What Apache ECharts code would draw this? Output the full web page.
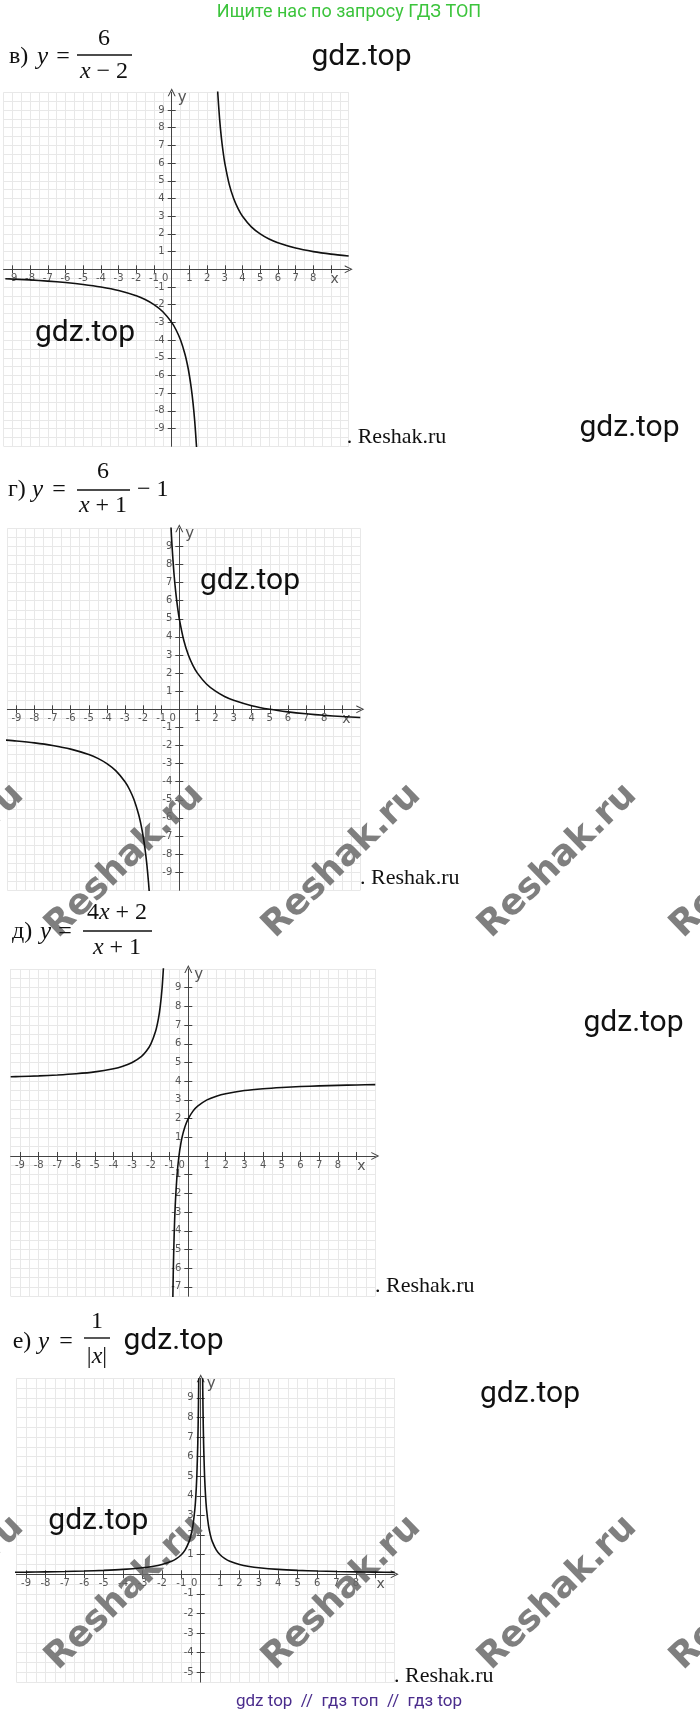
<!DOCTYPE html>
<html>
<head>
<meta charset="utf-8">
<script src="https://cdn.jsdelivr.net/npm/echarts/dist/echarts.min.js"></script>
<style>html,body{margin:0;padding:0;background:#fff}#c{width:700px;height:1716px}</style>
</head>
<body>
<div id="c"></div>
<script>
// ---------- data ----------
// в) y = 6/(x-2)
const v_left  = [[-9.4,-0.53],[-8,-0.6],[-7,-0.667],[-6,-0.75],[-5,-0.857],[-4,-1],[-3,-1.2],[-2,-1.5],[-1.5,-1.71],[-1,-2],[-0.5,-2.4],[0,-3],[0.25,-3.43],[0.5,-4],[0.75,-4.8],[0.9,-5.45],[1,-6],[1.1,-6.67],[1.2,-7.5],[1.3,-8.57],[1.4,-10],[1.45,-10.9]];
const v_right = [[2.55,10.9],[2.6,10],[2.7,8.57],[2.8,7.5],[2.9,6.67],[3,6],[3.25,4.8],[3.5,4],[3.75,3.43],[4,3],[4.5,2.4],[5,2],[5.5,1.71],[6,1.5],[7,1.2],[8,1],[9,0.857],[10,0.75]];
// г) y = 6/(x+1) - 1
const g_left  = [[-9.6,-1.7],[-9,-1.75],[-8,-1.857],[-7,-2],[-6,-2.2],[-5,-2.5],[-4.5,-2.71],[-4,-3],[-3.5,-3.4],[-3,-4],[-2.75,-4.43],[-2.5,-5],[-2.25,-5.8],[-2.1,-6.45],[-2,-7],[-1.9,-7.67],[-1.8,-8.5],[-1.7,-9.57],[-1.65,-10.23]];
const g_right = [[-0.46,10.1],[-0.4,9],[-0.3,7.57],[-0.2,6.5],[-0.1,5.67],[0,5],[0.25,3.8],[0.5,3],[0.75,2.43],[1,2],[1.5,1.4],[2,1],[2.5,0.71],[3,0.5],[4,0.2],[5,0],[6,-0.143],[7,-0.25],[8,-0.333],[9,-0.4],[10,-0.455]];
// д) y = (4x+2)/(x+1)
const d_left  = [[-9.5,4.235],[-9,4.25],[-8,4.286],[-7,4.333],[-6,4.4],[-5,4.5],[-4,4.667],[-3.5,4.8],[-3,5],[-2.5,5.333],[-2.25,5.6],[-2,6],[-1.75,6.667],[-1.6,7.333],[-1.5,8],[-1.4,9],[-1.33,10.06],[-1.3,10.67]];
const d_right = [[-0.84,-8.5],[-0.8,-6],[-0.75,-4],[-0.7,-2.667],[-0.6,-1],[-0.5,0],[-0.4,0.667],[-0.3,1.143],[-0.2,1.5],[-0.1,1.778],[0,2],[0.25,2.4],[0.5,2.667],[1,3],[1.5,3.2],[2,3.333],[3,3.5],[4,3.6],[5,3.667],[6,3.714],[7,3.75],[8,3.778],[9,3.8],[10,3.818]];
// е) y = 1/|x|
const e_left  = [[-9.6,0.104],[-9,0.111],[-8,0.125],[-7,0.143],[-6,0.167],[-5,0.2],[-4,0.25],[-3,0.333],[-2.5,0.4],[-2,0.5],[-1.5,0.667],[-1.25,0.8],[-1,1],[-0.8,1.25],[-0.6,1.667],[-0.5,2],[-0.4,2.5],[-0.3,3.333],[-0.25,4],[-0.2,5],[-0.15,6.667],[-0.12,8.333],[-0.1,10]];
const e_right = [[0.1,10],[0.12,8.333],[0.15,6.667],[0.2,5],[0.25,4],[0.3,3.333],[0.4,2.5],[0.5,2],[0.6,1.667],[0.8,1.25],[1,1],[1.25,0.8],[1.5,0.667],[2,0.5],[2.5,0.4],[3,0.333],[4,0.25],[5,0.2],[6,0.167],[7,0.143],[8,0.125],[9,0.111],[10,0.1]];

// tick values and tick labels
const xTicks      = [-9,-8,-7,-6,-5,-4,-3,-2,-1,0,1,2,3,4,5,6,7,8,9];
const xTickLabels = [-9,-8,-7,-6,-5,-4,-3,-2,-1,0,1,2,3,4,5,6,7,8];
const yTicks9     = [-9,-8,-7,-6,-5,-4,-3,-2,-1,0,1,2,3,4,5,6,7,8,9];
const yLabels9    = [-9,-8,-7,-6,-5,-4,-3,-2,-1,1,2,3,4,5,6,7,8,9];
const yTicks7     = [-7,-6,-5,-4,-3,-2,-1,0,1,2,3,4,5,6,7,8,9];
const yLabels7    = [-7,-6,-5,-4,-3,-2,-1,1,2,3,4,5,6,7,8,9];
const yTicks5     = [-5,-4,-3,-2,-1,0,1,2,3,4,5,6,7,8,9];
const yLabels5    = [-5,-4,-3,-2,-1,1,2,3,4,5,6,7,8,9];

// ---------- layout ----------
const charts = [
  {grid:{left:3.55, top:92.3, width:345.15, height:354}, x:[-9.5,10], y:[-10,10], yt:yTicks9, yl:yLabels9, series:[v_left, v_right]},
  {grid:{left:7.35, top:528.3, width:352.95, height:362}, x:[-9.5,10], y:[-10,10], yt:yTicks9, yl:yLabels9, series:[g_left, g_right]},
  {grid:{left:10.65, top:969, width:364.65, height:327.25}, x:[-9.5,10], y:[-7.5,10], yt:yTicks7, yl:yLabels7, series:[d_left, d_right]},
  {grid:{left:16.4, top:1378.3, width:378.3, height:303.8}, x:[-9.5,10], y:[-5.5,10], yt:yTicks5, yl:yLabels5, series:[e_left, e_right]}
];

const ARROW = 'path://M0,10 L5,0 L10,10 L8.6,10 L5,2.8 L1.4,10 Z';
const AXIS_C = '#444', LABEL_C = '#555', GRID_C = '#e8e8e8';
const labelFont = 'DejaVu Sans';

const grids = [], xAxes = [], yAxes = [], series = [];
charts.forEach((c, i) => {
  grids.push(Object.assign({outerBoundsMode:'none', containLabel:false}, c.grid));
  // where the zero lines sit inside the grid (from the axis ranges)
  const xOff = -(c.grid.height * (0 - c.y[0]) / (c.y[1] - c.y[0]));
  const yOff = -(c.grid.width * (0 - c.x[0]) / (c.x[1] - c.x[0]));
  const base = {type:'value', gridIndex:i, interval:0.5};
  // 3i: grid lines every half unit
  xAxes.push(Object.assign({}, base, {min:c.x[0], max:c.x[1], position:'top',
    axisLine:{show:false, onZero:false}, axisTick:{show:false}, axisLabel:{show:false},
    splitLine:{show:true, lineStyle:{color:GRID_C, width:1}}}));
  yAxes.push(Object.assign({}, base, {min:c.y[0], max:c.y[1], position:'right',
    axisLine:{show:false, onZero:false}, axisTick:{show:false}, axisLabel:{show:false},
    splitLine:{show:true, lineStyle:{color:GRID_C, width:1}}}));
  // 3i+1: labelled axes through the origin
  xAxes.push(Object.assign({}, base, {min:c.x[0], max:c.x[1], position:'bottom', offset:xOff,
    name:'x', nameLocation:'end', nameGap:-14,
    nameTextStyle:{align:'center', verticalAlign:'top', padding:[3,0,0,0], fontSize:14, color:LABEL_C, fontFamily:labelFont},
    axisLine:{show:true, onZero:false, symbol:['none', ARROW], symbolSize:[9,8], lineStyle:{color:AXIS_C, width:1}},
    axisTick:{show:true, length:4, customValues:xTicks, lineStyle:{color:AXIS_C, width:1}},
    axisLabel:{show:true, customValues:xTickLabels, margin:4, fontSize:10, color:LABEL_C, fontFamily:labelFont,
      formatter:(v) => xTickLabels.indexOf(v) < 0 ? '' : (v === 0 ? '{z|0}' : String(v)),
      rich:{z:{padding:[0,13,0,0], fontSize:10, color:LABEL_C, fontFamily:labelFont}}},
    splitLine:{show:false}}));
  yAxes.push(Object.assign({}, base, {min:c.y[0], max:c.y[1], position:'left', offset:yOff,
    name:'y', nameLocation:'end', nameGap:-6,
    nameTextStyle:{align:'left', verticalAlign:'middle', padding:[0,0,0,6], fontSize:15, color:LABEL_C, fontFamily:labelFont},
    axisLine:{show:true, onZero:false, symbol:['none', ARROW], symbolSize:[9,8], lineStyle:{color:AXIS_C, width:1}},
    axisTick:{show:true, length:4, customValues:c.yt, lineStyle:{color:AXIS_C, width:1}},
    axisLabel:{show:true, customValues:c.yl, margin:7, fontSize:10, color:LABEL_C, fontFamily:labelFont,
      formatter:(v) => c.yl.indexOf(v) < 0 ? '' : String(v)},
    splitLine:{show:false}}));
  // 3i+2: inner half of the cross-shaped ticks
  xAxes.push(Object.assign({}, base, {min:c.x[0], max:c.x[1], position:'bottom', offset:xOff,
    axisLine:{show:false, onZero:false},
    axisTick:{show:true, inside:true, length:4, customValues:xTicks, lineStyle:{color:AXIS_C, width:1}},
    axisLabel:{show:false}, splitLine:{show:false}}));
  yAxes.push(Object.assign({}, base, {min:c.y[0], max:c.y[1], position:'left', offset:yOff,
    axisLine:{show:false, onZero:false},
    axisTick:{show:true, inside:true, length:4, customValues:c.yt, lineStyle:{color:AXIS_C, width:1}},
    axisLabel:{show:false}, splitLine:{show:false}}));
  c.series.forEach(d => {
    series.push({type:'line', xAxisIndex:3*i+1, yAxisIndex:3*i+1, data:d, showSymbol:false, symbol:'none',
      smooth:0.25, clip:true, silent:true, z:4,
      lineStyle:{color:'#111', width:1.6}});
  });
});

// ---------- text / decorations ----------
const graphic = [];
function txt(x, y, text, font, fill, align, z) {
  graphic.push({type:'text', x:x, y:y, z:z || 5, silent:true,
    style:{text:text, font:font, fill:fill, align:align || 'left', verticalAlign:'middle',
           textAlign:align || 'left', textVerticalAlign:'middle',
           rich:{i:{font:'italic ' + font.replace(/^italic /,''), fill:fill}}}});
}
function hline(x1, x2, y) {
  graphic.push({type:'line', z:5, silent:true, shape:{x1:x1, y1:y, x2:x2, y2:y}, style:{stroke:'#111', lineWidth:1.4}});
}
const SER = '24px "Liberation Serif"', SERI = 'italic 25px "Liberation Serif"', BLK = '#111';

// watermarks (rotated)
[[-55,861],[125,861],[342,861],[558,861],[750,861],[-55,1593],[125,1593],[342,1593],[558,1593],[750,1593]].forEach(p => {
  graphic.push({type:'text', x:p[0], y:p[1], rotation:Math.PI/4 * 0.98, z:3, silent:true,
    style:{text:'Reshak.ru', font:'bold 36px "DejaVu Sans"', fill:'rgba(105,105,105,0.85)',
      align:'center', verticalAlign:'middle', textAlign:'center', textVerticalAlign:'middle'}});
});

// header / footer
txt(349, 12, 'Ищите нас по запросу ГДЗ ТОП', '18px Roboto', '#3cc43c', 'center');
txt(349, 1702, 'gdz top  //  гдз топ  //  гдз top', '17px Roboto', '#4a2c8c', 'center');

// gdz.top marks
[[361.5,57],[629.5,428],[85,333],[250,581],[633.5,1023],[173.5,1341],[530,1394],[98.3,1521]].forEach(p => {
  txt(p[0], p[1], 'gdz.top', '30px Roboto', '#111', 'center', 6);
});
// ". Reshak.ru" captions
[[346.7,437],[360,878],[375,1286],[394,1676]].forEach(p => {
  txt(p[0], p[1], '. Reshak.ru', '22px "Liberation Serif"', '#111', 'left');
});

// formula в)
txt(9, 57, 'в)', SER, BLK, 'left');
txt(37, 57, 'y', SERI, BLK, 'left');
txt(63, 57, '=', SER, BLK, 'center');
txt(104, 39, '6', SER, BLK, 'center');
hline(77, 132, 55);
txt(104, 72, '{i|x} − 2', SER, BLK, 'center');
// formula г)
txt(8, 490, 'г)', SER, BLK, 'left');
txt(32, 490, 'y', SERI, BLK, 'left');
txt(59, 490, '=', SER, BLK, 'center');
txt(103, 472, '6', SER, BLK, 'center');
hline(77, 130, 490);
txt(103, 506, '{i|x} + 1', SER, BLK, 'center');
txt(137, 490, '− 1', SER, BLK, 'left');
// formula д)
txt(12, 932, 'д)', SER, BLK, 'left');
txt(40, 932, 'y', SERI, BLK, 'left');
txt(65, 932, '=', SER, BLK, 'center');
txt(117, 913, '4{i|x} + 2', SER, BLK, 'center');
hline(83, 152, 931);
txt(117, 948, '{i|x} + 1', SER, BLK, 'center');
// formula е)
txt(12.7, 1342, 'е)', SER, BLK, 'left');
txt(38, 1342, 'y', SERI, BLK, 'left');
txt(66, 1342, '=', SER, BLK, 'center');
txt(97, 1322, '1', SER, BLK, 'center');
hline(84, 110, 1338);
txt(97, 1357, '|{i|x}|', SER, BLK, 'center');

const chart = echarts.init(document.getElementById('c'), null, {renderer:'canvas'});
chart.setOption({
  backgroundColor:'#ffffff',
  animation:false,
  grid:grids,
  xAxis:xAxes,
  yAxis:yAxes,
  series:series,
  graphic:graphic
});
</script>
</body>
</html>
